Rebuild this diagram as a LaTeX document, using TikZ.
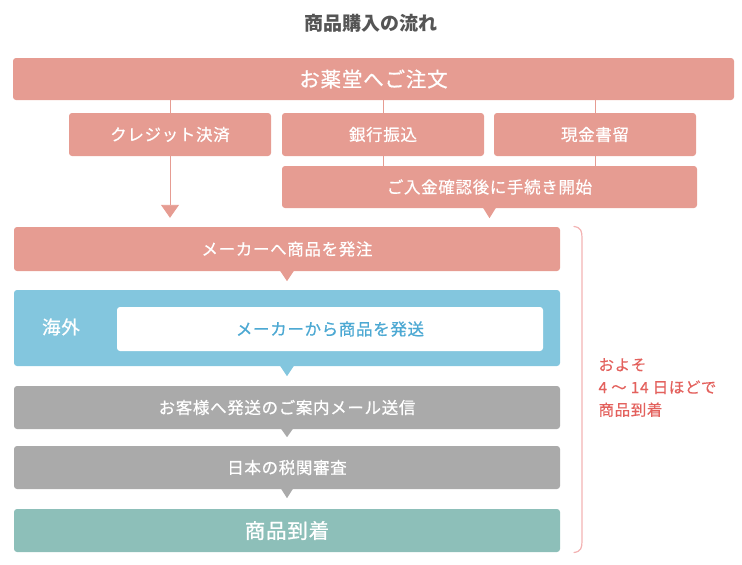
\documentclass[tikz,border=0pt]{standalone}
\usepackage{fontspec}
\setmainfont{Noto Sans CJK JP}
\newfontfamily\jp[LetterSpace=4,FakeBold=0.6]{Noto Sans CJK JP}
\newfontfamily\jpb[LetterSpace=4,FakeBold=0.8]{Noto Sans CJK JP}
\newfontfamily\jpr[LetterSpace=4,FakeBold=0.4]{Noto Sans CJK JP}
\usetikzlibrary{arrows.meta,calc}
\definecolor{pk}{HTML}{E69C92}
\definecolor{bl}{HTML}{83C6DE}
\definecolor{blt}{HTML}{4DA9D3}
\definecolor{gr}{HTML}{AAAAAA}
\definecolor{tl}{HTML}{8DBFB9}
\definecolor{rd}{HTML}{E3615D}
\definecolor{brc}{HTML}{F3B3B3}
\definecolor{ttl}{HTML}{555555}
\newcommand{\ptr}[4]{\fill[#2] ([xshift=-#3pt,yshift=0.5pt]#1.south) -- ([xshift=#3pt,yshift=0.5pt]#1.south) -- ([yshift=-#4pt]#1.south) -- cycle;}
\begin{document}
\begin{tikzpicture}[x=1pt,y=-1pt,
  box/.style={fill=pk, rounded corners=3pt, inner sep=0pt, text=white,
    font=\jp\fontsize{16.5}{19}\selectfont},
  conn/.style={draw=pk, line width=0.9pt}]
\useasboundingbox (0,0) rectangle (742,565);
\node[text=ttl, font=\bfseries\fontsize{19}{22}\selectfont] (title) at (371,23) {商品購入の流れ};
\node[box, minimum width=721pt, minimum height=42pt, font=\jpb\fontsize{20.5}{24}\selectfont] (order) at (373.5,79) {お薬堂へご注文};
\node[box, minimum width=202pt, minimum height=43pt] (credit) at (170,134.5) {クレジット決済};
\node[box, minimum width=202pt, minimum height=43pt] (bank) at (383,134.5) {銀行振込};
\node[box, minimum width=202pt, minimum height=43pt] (cash) at (595,134.5) {現金書留};
\node[box, minimum width=415pt, minimum height=42pt] (confirm) at (489.5,187) {ご入金確認後に手続き開始};
\node[box, minimum width=546pt, minimum height=44pt] (hatchu) at (287,249) {メーカーへ商品を発注};
\node[box, fill=bl, minimum width=546pt, minimum height=76pt] (kaigai) at (287,328) {};
\node[text=white, font=\jpb\fontsize{18.5}{22}\selectfont] (kaigailbl) at (61,327) {海外};
\node[box, fill=white, text=blt, minimum width=426pt, minimum height=44pt] (ship) at (330,329) {メーカーから商品を発送};
\node[box, fill=gr, minimum width=546pt, minimum height=43pt] (mail) at (287,407.5) {お客様へ発送のご案内メール送信};
\node[box, fill=gr, minimum width=546pt, minimum height=43pt] (customs) at (287,467.5) {日本の税関審査};
\node[box, fill=tl, minimum width=546pt, minimum height=43pt, font=\jpb\fontsize{20.5}{24}\selectfont] (arrive) at (287,530.5) {商品到着};
% connectors
\draw[conn] (credit.north) -- (credit.north |- order.south);
\draw[conn] (bank.north) -- (bank.north |- order.south);
\draw[conn] (cash.north) -- (cash.north |- order.south);
\draw[conn] (bank.south) -- (bank.south |- confirm.north);
\draw[conn] (cash.south) -- (cash.south |- confirm.north);
\draw[conn, -{Triangle[width=18pt,length=13pt]}, shorten >=9pt] (credit.south) -- (credit.south |- hatchu.north);
\ptr{confirm}{pk}{6.5}{10}
\ptr{hatchu}{pk}{7}{10}
\ptr{kaigai}{bl}{7}{10}
\ptr{mail}{gr}{6}{8}
\ptr{customs}{gr}{6}{9}
% brace
\draw[brc, line width=1.2pt, line cap=round] (574,226.5) .. controls (581,227.5) and (582,231) .. (582,238) -- (582,541) .. controls (582,548) and (581,551.5) .. (574,552.5);
\node[anchor=west, align=left, text=rd, font=\jpr\fontsize{15.5}{22.5}\selectfont] (days) at (595,387.5) {およそ\\4 ～ 14 日ほどで\\商品到着};
\end{tikzpicture}
\end{document}
